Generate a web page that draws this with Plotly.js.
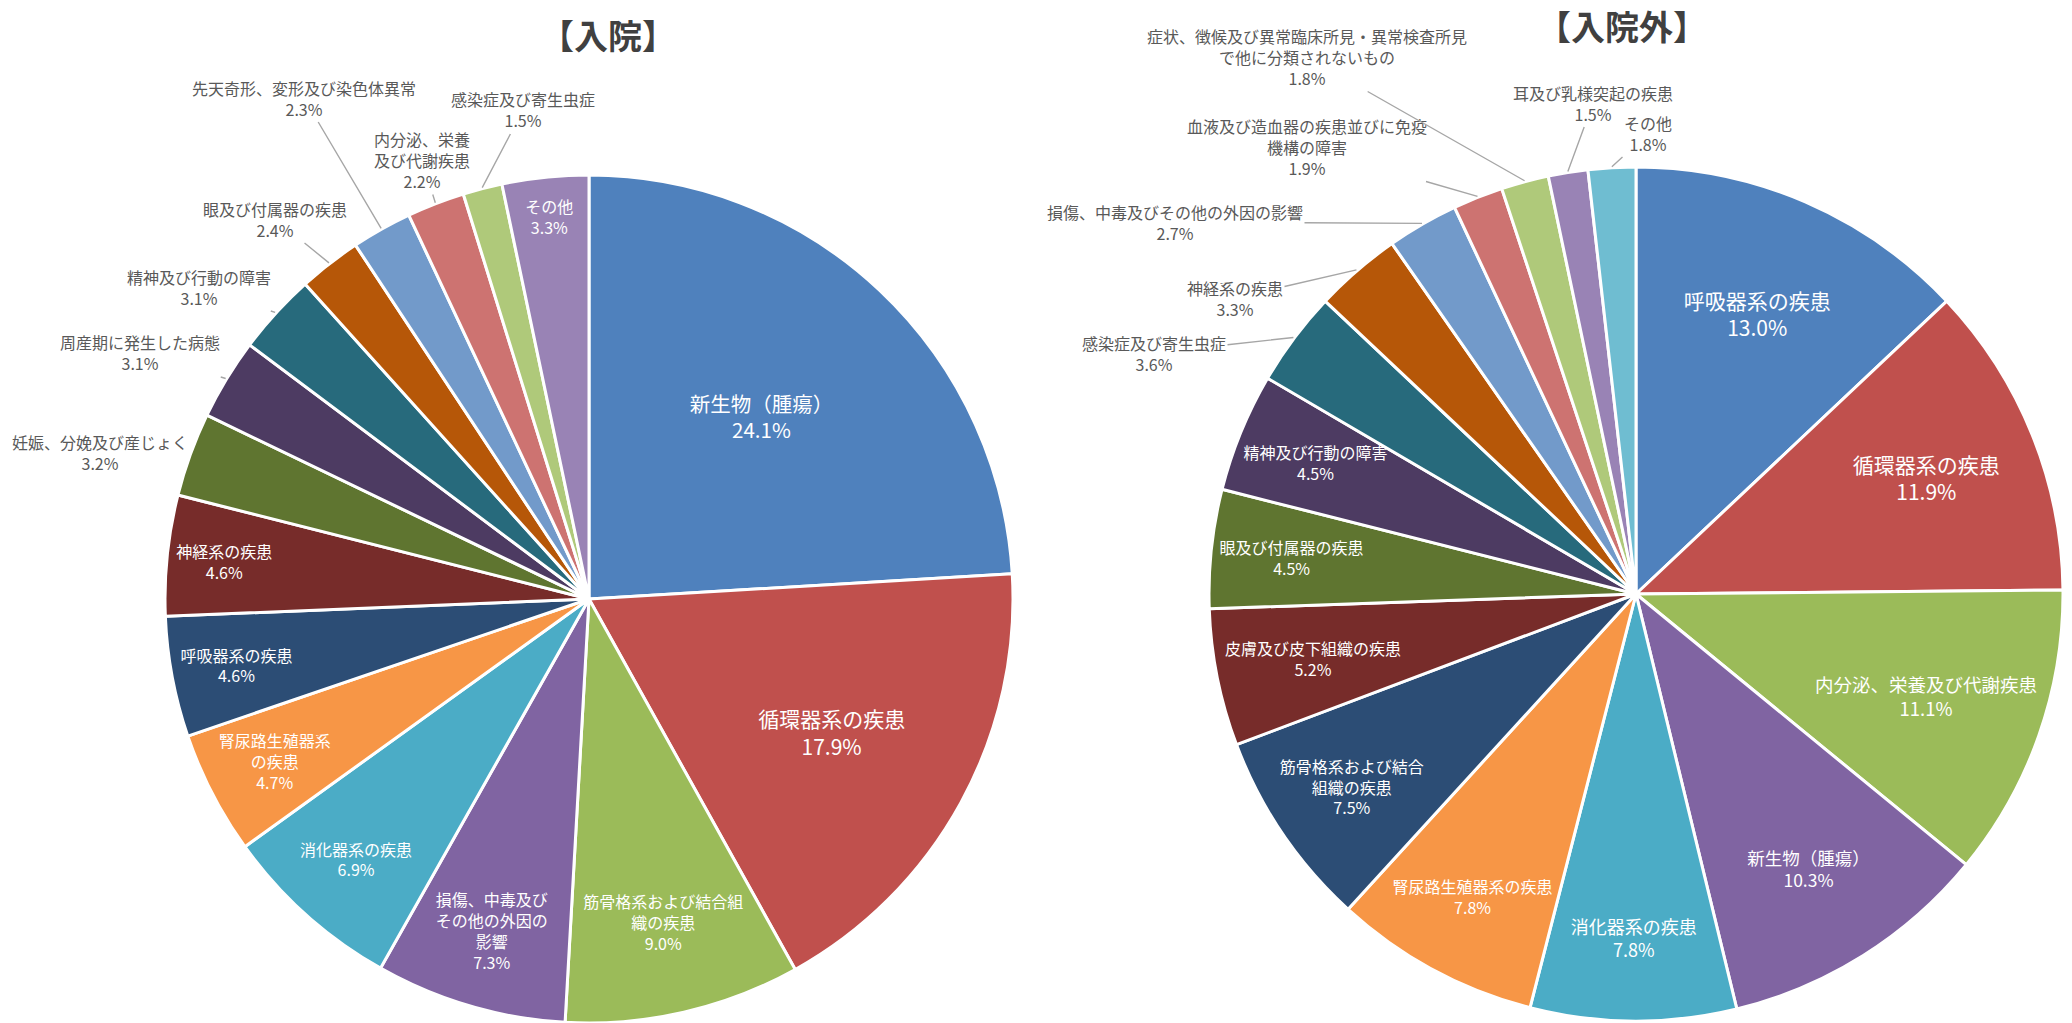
<!DOCTYPE html>
<html>
<head>
<meta charset="utf-8">
<script src="https://cdn.plot.ly/plotly-3.0.1.min.js"></script>
<style>
html, body { margin: 0; padding: 0; background: #ffffff; overflow: hidden; }
#wrap { width: 2072px; height: 1023px; overflow: hidden; }
#chart { width: 2072px; height: 1023px; }
</style>
</head>
<body>
<div id="wrap"><div id="chart"></div></div>
<script>
// ---------- DATA ----------
const inpatientTitle = '【入院】';
const inpatientCategories = [
  '新生物（腫瘍）', '循環器系の疾患', '筋骨格系および結合組織の疾患', '損傷、中毒及びその他の外因の影響',
  '消化器系の疾患', '腎尿路生殖器系の疾患', '呼吸器系の疾患', '神経系の疾患',
  '妊娠、分娩及び産じょく', '周産期に発生した病態', '精神及び行動の障害', '眼及び付属器の疾患',
  '先天奇形、変形及び染色体異常', '内分泌、栄養及び代謝疾患', '感染症及び寄生虫症', 'その他'
];
const inpatientLabels = [
  '新生物（腫瘍）', '循環器系の疾患', '筋骨格系および結合組<br>織の疾患', '損傷、中毒及び<br>その他の外因の<br>影響',
  '消化器系の疾患', '腎尿路生殖器系<br>の疾患', '呼吸器系の疾患', '神経系の疾患',
  '妊娠、分娩及び産じょく', '周産期に発生した病態', '精神及び行動の障害', '眼及び付属器の疾患',
  '先天奇形、変形及び染色体異常', '内分泌、栄養<br>及び代謝疾患', '感染症及び寄生虫症', 'その他'
];
const inpatientValues = [24.1, 17.9, 9.0, 7.3, 6.9, 4.7, 4.6, 4.6, 3.2, 3.1, 3.1, 2.4, 2.3, 2.2, 1.5, 3.3];

const outpatientTitle = '【入院外】';
const outpatientCategories = [
  '呼吸器系の疾患', '循環器系の疾患', '内分泌、栄養及び代謝疾患', '新生物（腫瘍）',
  '消化器系の疾患', '腎尿路生殖器系の疾患', '筋骨格系および結合組織の疾患', '皮膚及び皮下組織の疾患',
  '眼及び付属器の疾患', '精神及び行動の障害', '感染症及び寄生虫症', '神経系の疾患',
  '損傷、中毒及びその他の外因の影響', '血液及び造血器の疾患並びに免疫機構の障害',
  '症状、徴候及び異常臨床所見・異常検査所見で他に分類されないもの', '耳及び乳様突起の疾患', 'その他'
];
const outpatientLabels = [
  '呼吸器系の疾患', '循環器系の疾患', '内分泌、栄養及び代謝疾患', '新生物（腫瘍）',
  '消化器系の疾患', '腎尿路生殖器系の疾患', '筋骨格系および結合<br>組織の疾患', '皮膚及び皮下組織の疾患',
  '眼及び付属器の疾患', '精神及び行動の障害', '感染症及び寄生虫症', '神経系の疾患',
  '損傷、中毒及びその他の外因の影響', '血液及び造血器の疾患並びに免疫<br>機構の障害',
  '症状、徴候及び異常臨床所見・異常検査所見<br>で他に分類されないもの', '耳及び乳様突起の疾患', 'その他'
];
const outpatientValues = [13.0, 11.9, 11.1, 10.3, 7.8, 7.8, 7.5, 5.2, 4.5, 4.5, 3.6, 3.3, 2.7, 1.9, 1.8, 1.5, 1.8];

// ---------- STYLE / LAYOUT ----------
const W = 2072, H = 1023;
const FONT = '"Noto Sans CJK JP", "Noto Sans", sans-serif';
const inpatientColors = ['#4F81BD', '#C0504D', '#9BBB59', '#8064A2', '#4BACC6', '#F79646', '#2C4D75', '#772C2A',
  '#5F7530', '#4D3B62', '#276A7C', '#B65708', '#729ACA', '#CD7371', '#AFC97A', '#9983B5'];
const outpatientColors = ['#4F81BD', '#C0504D', '#9BBB59', '#8064A2', '#4BACC6', '#F79646', '#2C4D75', '#772C2A',
  '#5F7530', '#4D3B62', '#276A7C', '#B65708', '#729ACA', '#CD7371', '#AFC97A', '#9983B5', '#6FBDD1'];
// 'none' = label drawn outside with a leader line
const inpatientPositions = ['inside', 'inside', 'inside', 'inside', 'inside', 'inside', 'inside', 'inside',
  'none', 'none', 'none', 'none', 'none', 'none', 'none', 'inside'];
const outpatientPositions = ['inside', 'inside', 'inside', 'inside', 'inside', 'inside', 'inside', 'inside',
  'inside', 'inside', 'none', 'none', 'none', 'none', 'none', 'none', 'none'];
const inpatientSizes = [20.5, 21, 16, 16, 16, 16, 16, 16, 16, 16, 16, 16, 16, 16, 16, 16];
const outpatientSizes = [21, 21, 18.5, 17.5, 18, 16, 16, 16, 16, 16, 16, 16, 16, 16, 16, 16, 16];
// pie geometry in pixels
const PIE_IN = { cx: 589, cy: 599, r: 424 };
const PIE_OUT = { cx: 1636, cy: 594, r: 427 };
// centres (px) of the outside label blocks, in slice order
const inpatientOutsideLabelPos = [[100, 452], [140, 353], [199, 287], [275, 219], [304, 98], [422, 160], [523, 110]];
const outpatientOutsideLabelPos = [[1154, 353], [1235, 298], [1175, 222], [1307, 147], [1307, 57], [1593, 103], [1648, 134]];

function domainOf(P) {
  return { x: [(P.cx - P.r) / W, (P.cx + P.r) / W], y: [(H - P.cy - P.r) / H, (H - P.cy + P.r) / H] };
}

function pieTrace(labels, values, text, colors, positions, sizes, P) {
  return {
    type: 'pie',
    labels: labels,
    values: values,
    text: text,
    texttemplate: '%{text}<br>%{value:.1f}%',
    sort: false,
    direction: 'clockwise',
    rotation: 0,
    marker: { colors: colors, line: { color: '#ffffff', width: 3 } },
    textposition: positions,
    insidetextorientation: 'horizontal',
    insidetextfont: { family: FONT, color: '#ffffff', size: sizes },
    domain: domainOf(P),
    hoverinfo: 'skip',
    showlegend: false
  };
}

function outsideAnnotations(values, text, positions, P, labelPos) {
  const total = values.reduce(function (a, b) { return a + b; }, 0);
  let cum = 0, k = 0;
  const anns = [];
  values.forEach(function (v, i) {
    const mid = (cum + v / 2) / total * 2 * Math.PI;
    cum += v;
    if (positions[i] !== 'none') return;
    const tipX = P.cx + (P.r + 1) * Math.sin(mid);
    const tipY = P.cy - (P.r + 1) * Math.cos(mid);
    const pos = labelPos[k++];
    anns.push({
      xref: 'paper', yref: 'paper', x: tipX / W, y: 1 - tipY / H,
      ax: pos[0] - tipX, ay: pos[1] - tipY,
      xanchor: 'center', yanchor: 'middle', align: 'center',
      text: text[i] + '<br>' + v.toFixed(1) + '%',
      showarrow: true, arrowhead: 0, arrowwidth: 1.4, arrowcolor: '#A6A6A6', standoff: 0, startstandoff: 0,
      font: { family: FONT, size: 16, color: '#595959' }
    });
  });
  return anns;
}

const data = [
  pieTrace(inpatientCategories, inpatientValues, inpatientLabels, inpatientColors, inpatientPositions, inpatientSizes, PIE_IN),
  pieTrace(outpatientCategories, outpatientValues, outpatientLabels, outpatientColors, outpatientPositions, outpatientSizes, PIE_OUT)
];

const layout = {
  width: W, height: H,
  margin: { l: 0, r: 0, t: 0, b: 0, pad: 0 },
  paper_bgcolor: '#ffffff',
  font: { family: FONT, color: '#595959' },
  showlegend: false,
  annotations: [
    { text: '<b>' + inpatientTitle + '</b>', xref: 'paper', yref: 'paper', x: 608 / W, y: 1 - 35 / H,
      xanchor: 'center', yanchor: 'middle', showarrow: false, font: { family: FONT, size: 34, color: '#404040' } },
    { text: '<b>' + outpatientTitle + '</b>', xref: 'paper', yref: 'paper', x: 1622 / W, y: 1 - 26 / H,
      xanchor: 'center', yanchor: 'middle', showarrow: false, font: { family: FONT, size: 34, color: '#404040' } }
  ].concat(
    outsideAnnotations(inpatientValues, inpatientLabels, inpatientPositions, PIE_IN, inpatientOutsideLabelPos),
    outsideAnnotations(outpatientValues, outpatientLabels, outpatientPositions, PIE_OUT, outpatientOutsideLabelPos)
  )
};

const gd = document.getElementById('chart');
Plotly.newPlot(gd, data, layout, { staticPlot: true, displayModeBar: false }).then(function () {
  // inside labels: keep their set font size (no shrink-to-fit) and keep the box inside the pie
  const pies = [PIE_IN, PIE_OUT];
  gd.querySelectorAll('.pielayer g.trace').forEach(function (g, ti) {
    const P = pies[ti];
    if (!P) return;
    g.querySelectorAll('g.slice text.slicetext').forEach(function (t) {
      const tl = t.transform && t.transform.baseVal;
      if (!tl || tl.numberOfItems === 0) return;
      const M = tl.consolidate().matrix;
      if (M.a <= 0) return;
      const bb = t.getBBox();
      const lx = bb.x + bb.width / 2, ly = bb.y + bb.height / 2;
      let cx = M.a * lx + M.c * ly + M.e, cy = M.b * lx + M.d * ly + M.f;
      const hw = bb.width / 2, hh = bb.height / 2 - 2;
      const dx0 = cx - P.cx, dy0 = cy - P.cy;
      let d = Math.hypot(dx0, dy0);
      const ux = dx0 / d, uy = dy0 / d;
      const lim = P.r * 0.985;
      function fits(x, y) {
        return [[-1, -1], [1, -1], [-1, 1], [1, 1]].every(function (s) {
          return Math.hypot(x + s[0] * hw - P.cx, y + s[1] * hh - P.cy) <= lim;
        });
      }
      while (!fits(cx, cy) && d > P.r * 0.35) {
        d -= 1;
        cx = P.cx + ux * d;
        cy = P.cy + uy * d;
      }
      t.setAttribute('transform', 'translate(' + (cx - lx) + ',' + (cy - ly) + ')');
    });
  });
});
</script>
</body>
</html>
